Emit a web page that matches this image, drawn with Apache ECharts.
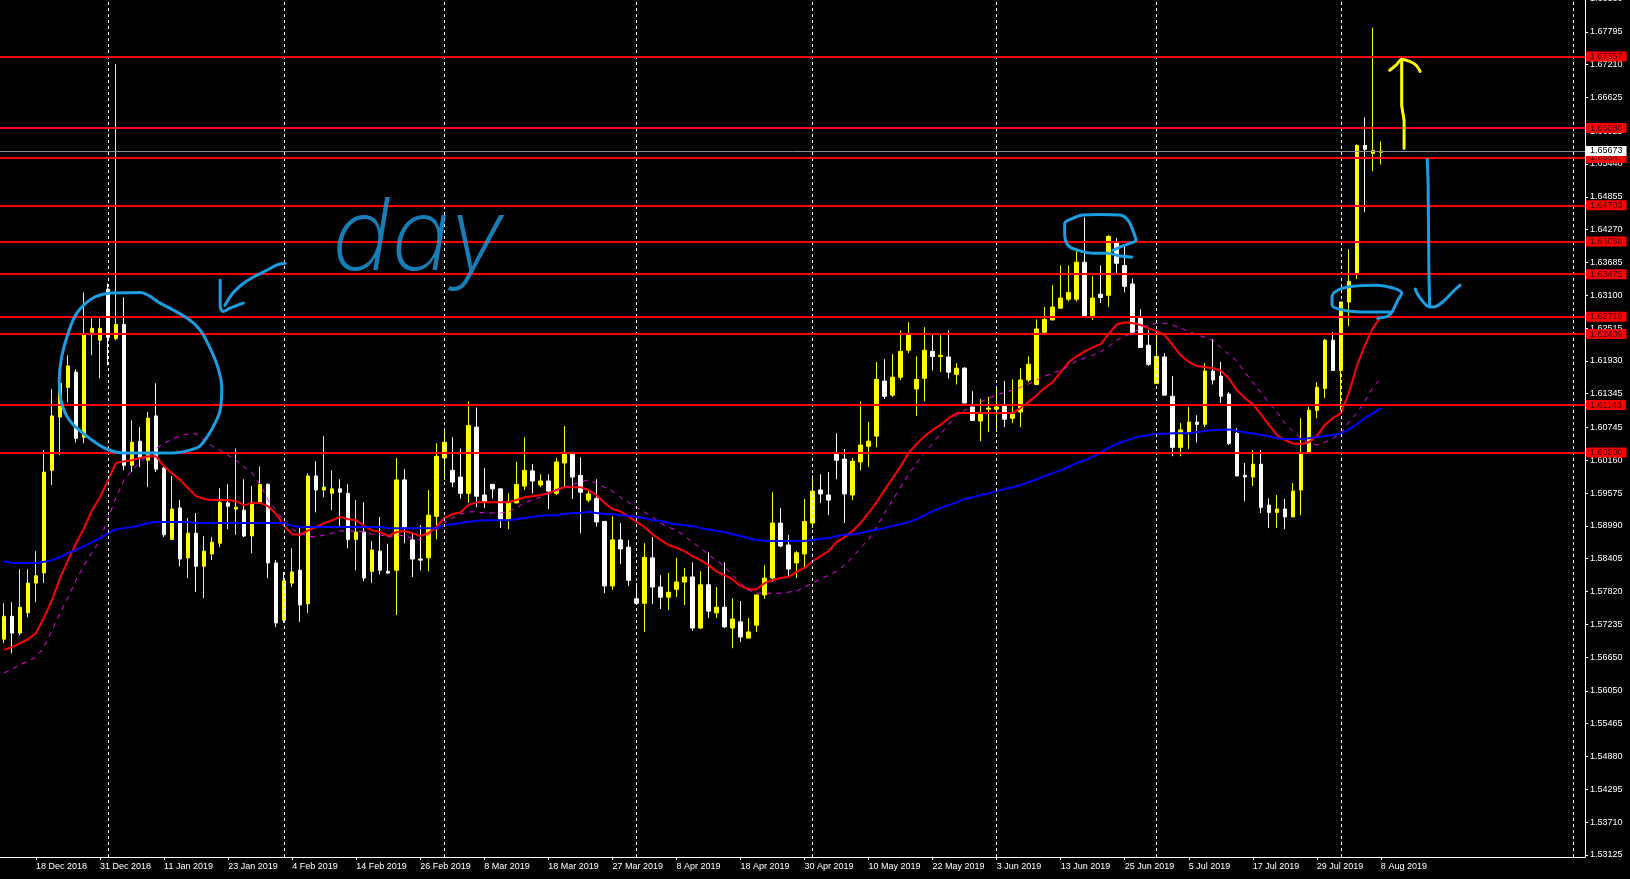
<!DOCTYPE html>
<html><head><meta charset="utf-8">
<script src="https://cdn.jsdelivr.net/npm/echarts@6/dist/echarts.min.js"></script>
<style>html,body{margin:0;padding:0;background:#000;}#c{width:1630px;height:879px;}</style>
</head><body><div id="c"></div>
<script>
// ---------- DATA ----------
const dates = [
"12 Dec 2018","13 Dec 2018","14 Dec 2018","17 Dec 2018","18 Dec 2018","19 Dec 2018","20 Dec 2018","21 Dec 2018","24 Dec 2018","26 Dec 2018","27 Dec 2018","28 Dec 2018","31 Dec 2018",
"2 Jan 2019","3 Jan 2019","4 Jan 2019","7 Jan 2019","8 Jan 2019","9 Jan 2019","10 Jan 2019","11 Jan 2019","14 Jan 2019","15 Jan 2019","16 Jan 2019","17 Jan 2019","18 Jan 2019","21 Jan 2019","22 Jan 2019","23 Jan 2019","24 Jan 2019","25 Jan 2019","28 Jan 2019","29 Jan 2019","30 Jan 2019","31 Jan 2019",
"1 Feb 2019","4 Feb 2019","5 Feb 2019","6 Feb 2019","7 Feb 2019","8 Feb 2019","11 Feb 2019","12 Feb 2019","13 Feb 2019","14 Feb 2019","15 Feb 2019","18 Feb 2019","19 Feb 2019","20 Feb 2019","21 Feb 2019","22 Feb 2019","25 Feb 2019","26 Feb 2019","27 Feb 2019","28 Feb 2019",
"1 Mar 2019","4 Mar 2019","5 Mar 2019","6 Mar 2019","7 Mar 2019","8 Mar 2019","10 Mar 2019","11 Mar 2019","12 Mar 2019","13 Mar 2019","14 Mar 2019","15 Mar 2019","17 Mar 2019","18 Mar 2019","19 Mar 2019","20 Mar 2019","21 Mar 2019","22 Mar 2019","24 Mar 2019","25 Mar 2019","26 Mar 2019","27 Mar 2019","28 Mar 2019","29 Mar 2019",
"1 Apr 2019","2 Apr 2019","3 Apr 2019","4 Apr 2019","5 Apr 2019","8 Apr 2019","9 Apr 2019","10 Apr 2019","11 Apr 2019","12 Apr 2019","15 Apr 2019","16 Apr 2019","17 Apr 2019","18 Apr 2019","19 Apr 2019","22 Apr 2019","23 Apr 2019","24 Apr 2019","25 Apr 2019","26 Apr 2019","29 Apr 2019","30 Apr 2019",
"1 May 2019","2 May 2019","3 May 2019","6 May 2019","7 May 2019","8 May 2019","9 May 2019","10 May 2019","13 May 2019","14 May 2019","15 May 2019","16 May 2019","17 May 2019","20 May 2019","21 May 2019","22 May 2019","23 May 2019","24 May 2019","27 May 2019","28 May 2019","29 May 2019","30 May 2019","31 May 2019",
"3 Jun 2019","4 Jun 2019","5 Jun 2019","6 Jun 2019","7 Jun 2019","10 Jun 2019","11 Jun 2019","12 Jun 2019","13 Jun 2019","14 Jun 2019","17 Jun 2019","18 Jun 2019","19 Jun 2019","20 Jun 2019","21 Jun 2019","24 Jun 2019","25 Jun 2019","26 Jun 2019","27 Jun 2019","28 Jun 2019",
"1 Jul 2019","2 Jul 2019","3 Jul 2019","4 Jul 2019","5 Jul 2019","8 Jul 2019","9 Jul 2019","10 Jul 2019","11 Jul 2019","12 Jul 2019","15 Jul 2019","16 Jul 2019","17 Jul 2019","18 Jul 2019","19 Jul 2019","22 Jul 2019","23 Jul 2019","24 Jul 2019","25 Jul 2019","26 Jul 2019","29 Jul 2019","30 Jul 2019","31 Jul 2019",
"1 Aug 2019","2 Aug 2019","5 Aug 2019","6 Aug 2019","7 Aug 2019","8 Aug 2019"];

const futureSlots = ["9 Aug 2019","12 Aug 2019","13 Aug 2019","14 Aug 2019","15 Aug 2019","16 Aug 2019","19 Aug 2019","20 Aug 2019","21 Aug 2019","22 Aug 2019","23 Aug 2019","26 Aug 2019","27 Aug 2019","28 Aug 2019","29 Aug 2019","30 Aug 2019","2 Sep 2019","3 Sep 2019","4 Sep 2019","5 Sep 2019","6 Sep 2019","9 Sep 2019","10 Sep 2019","11 Sep 2019","12 Sep 2019"];

const opens = [1.5697,1.5738,1.5708,1.5744,1.5797,1.5815,1.5998,1.6093,1.6146,1.6173,
1.6057,1.6244,1.6230,1.6321,1.6233,1.6258,1.6007,1.6050,1.6016,1.6095,
1.6002,1.5875,1.5931,1.5842,1.5886,1.5827,1.5849,1.5868,1.5940,1.5929,
1.5927,1.5881,1.5941,1.5973,1.5833,1.5731,1.5797,1.5820,1.5760,1.5988,
1.5963,1.5957,1.5965,1.5957,1.5875,1.5888,1.5818,1.5854,1.5818,1.5820,
1.5981,1.5874,1.5840,1.5842,1.5916,1.6020,1.5998,1.5986,1.5957,1.6075,
1.5954,1.5973,1.5965,1.5911,1.5940,1.5970,1.5997,1.5972,1.5979,1.5957,
1.6011,1.6030,1.5989,1.5945,1.5948,1.5907,1.5792,1.5874,1.5861,1.5769,
1.5761,1.5842,1.5790,1.5772,1.5786,1.5799,1.5808,1.5717,1.5794,1.5744,
1.5754,1.5717,1.5728,1.5699,1.5722,1.5776,1.5806,1.5904,1.5865,1.5833,
1.5849,1.5904,1.5963,1.5954,1.6027,1.6018,1.5954,1.6013,1.6041,1.6059,
1.6157,1.6132,1.6164,1.6212,1.6143,1.6162,1.6210,1.6201,1.6200,1.6169,
1.6180,1.6111,1.6086,1.6107,1.6107,1.6112,1.6091,1.6102,1.6159,1.6151,
1.6244,1.6266,1.6287,1.6303,1.6303,1.6369,1.6274,1.6312,1.6310,1.6403,
1.6363,1.6330,1.6271,1.6221,1.6153,1.6200,1.6130,1.6039,1.6066,1.6084,
1.6080,1.6175,1.6166,1.6134,1.6064,1.5989,1.5986,1.6009,1.5936,1.5923,
1.5929,1.5915,1.5963,1.6029,1.6105,1.6144,1.6230,1.6176,1.6298,1.6349,
1.6577,1.6563,1.6565];

const closes = [1.5738,1.5708,1.5754,1.5797,1.5810,1.5995,1.6095,1.6153,1.6184,1.6055,
1.6241,1.6251,1.6251,1.6235,1.6258,1.6007,1.6048,1.6020,1.6091,1.6000,
1.5883,1.5929,1.5840,1.5886,1.5827,1.5854,1.5870,1.5941,1.5934,1.5932,
1.5881,1.5941,1.5973,1.5833,1.5726,1.5801,1.5817,1.5758,1.5988,1.5963,
1.5968,1.5965,1.5959,1.5875,1.5888,1.5806,1.5856,1.5820,1.5815,1.5981,
1.5897,1.5840,1.5838,1.5918,1.6023,1.6048,1.5977,1.5957,1.6078,1.5952,
1.5941,1.5965,1.5911,1.5940,1.5973,1.5998,1.5979,1.5979,1.5961,1.6013,
1.6030,1.5986,1.5959,1.5956,1.5906,1.5792,1.5874,1.5858,1.5802,1.5761,
1.5843,1.5790,1.5772,1.5781,1.5799,1.5808,1.5717,1.5794,1.5747,1.5754,
1.5719,1.5733,1.5701,1.5710,1.5776,1.5806,1.5904,1.5863,1.5822,1.5851,
1.5907,1.5961,1.5956,1.5945,1.6016,1.5956,1.6014,1.6043,1.6050,1.6160,
1.6130,1.6164,1.6210,1.6241,1.6160,1.6212,1.6201,1.6203,1.6173,1.6180,
1.6118,1.6087,1.6098,1.6109,1.6111,1.6089,1.6098,1.6159,1.6187,1.6250,
1.6267,1.6289,1.6305,1.6315,1.6369,1.6274,1.6305,1.6306,1.6415,1.6367,
1.6326,1.6244,1.6217,1.6187,1.6201,1.6132,1.6039,1.6070,1.6084,1.6080,
1.6175,1.6159,1.6130,1.6046,1.5988,1.5986,1.6009,1.5932,1.5923,1.5929,
1.5915,1.5961,1.6029,1.6105,1.6146,1.6230,1.6176,1.6298,1.6335,1.6577,
1.6570,1.6568,1.6567];

const lows = [1.5690,1.5672,1.5704,1.5736,1.5763,1.5797,1.5972,1.6025,1.6119,1.6048,
1.6046,1.6203,1.6162,1.6185,1.6230,1.5998,1.5995,1.6004,1.5968,1.5995,
1.5879,1.5874,1.5827,1.5806,1.5781,1.5770,1.5838,1.5861,1.5893,1.5883,
1.5879,1.5850,1.5940,1.5806,1.5719,1.5726,1.5790,1.5728,1.5744,1.5923,
1.5950,1.5927,1.5897,1.5859,1.5820,1.5801,1.5797,1.5813,1.5813,1.5740,
1.5868,1.5808,1.5820,1.5818,1.5875,1.5981,1.5968,1.5948,1.5940,1.5932,
1.5931,1.5948,1.5895,1.5893,1.5940,1.5963,1.5957,1.5968,1.5929,1.5954,
1.5968,1.5947,1.5886,1.5941,1.5898,1.5779,1.5785,1.5831,1.5792,1.5761,
1.5710,1.5760,1.5751,1.5749,1.5772,1.5758,1.5712,1.5715,1.5735,1.5735,
1.5717,1.5681,1.5692,1.5699,1.5710,1.5769,1.5799,1.5861,1.5808,1.5806,
1.5826,1.5895,1.5940,1.5918,1.5982,1.5904,1.5945,1.5998,1.6004,1.6039,
1.6125,1.6129,1.6159,1.6207,1.6095,1.6121,1.6176,1.6173,1.6162,1.6151,
1.6118,1.6087,1.6050,1.6066,1.6066,1.6075,1.6082,1.6075,1.6155,1.6151,
1.6244,1.6266,1.6287,1.6299,1.6299,1.6274,1.6266,1.6296,1.6289,1.6346,
1.6315,1.6244,1.6217,1.6184,1.6153,1.6132,1.6023,1.6023,1.6036,1.6048,
1.6075,1.6151,1.6118,1.6043,1.5988,1.5943,1.5970,1.5922,1.5895,1.5895,
1.5893,1.5915,1.5918,1.6029,1.6091,1.6127,1.6176,1.6105,1.6255,1.6339,
1.6458,1.6531,1.6543];

const highs = [1.5761,1.5763,1.5822,1.5822,1.5854,1.6034,1.6143,1.6159,1.6203,1.6178,
1.6315,1.6269,1.6269,1.6331,1.6722,1.6306,1.6087,1.6075,1.6102,1.6153,
1.6004,1.5988,1.5945,1.5913,1.5922,1.5881,1.5879,1.5966,1.5973,1.6037,
1.5982,1.5970,1.6005,1.5975,1.5838,1.5817,1.5859,1.5897,1.5993,1.6014,
1.6059,1.5998,1.5982,1.5973,1.5945,1.5941,1.5872,1.5915,1.5867,1.6020,
1.6000,1.5888,1.5900,1.5963,1.6046,1.6071,1.6057,1.6037,1.6121,1.6110,
1.6002,1.5973,1.5965,1.5957,1.6013,1.6057,1.6009,1.5991,1.5991,1.6020,
1.6077,1.6030,1.6021,1.5961,1.5982,1.5907,1.5916,1.5904,1.5874,1.5797,
1.5868,1.5879,1.5811,1.5815,1.5842,1.5824,1.5834,1.5818,1.5852,1.5790,
1.5834,1.5770,1.5765,1.5735,1.5776,1.5829,1.5959,1.5931,1.5883,1.5854,
1.5947,1.5989,1.5991,1.5995,1.6064,1.6036,1.6020,1.6121,1.6084,1.6191,
1.6196,1.6205,1.6248,1.6262,1.6201,1.6253,1.6239,1.6239,1.6248,1.6189,
1.6182,1.6139,1.6125,1.6129,1.6146,1.6157,1.6160,1.6180,1.6201,1.6267,
1.6289,1.6328,1.6363,1.6363,1.6394,1.6449,1.6344,1.6363,1.6417,1.6412,
1.6401,1.6340,1.6285,1.6248,1.6246,1.6207,1.6166,1.6082,1.6111,1.6096,
1.6189,1.6232,1.6191,1.6137,1.6073,1.6011,1.6034,1.6034,1.5948,1.5954,
1.5947,1.5975,1.6091,1.6111,1.6155,1.6232,1.6244,1.6298,1.6392,1.6579,
1.6627,1.6787,1.6584];

const maRed = [1.5678,1.5683,1.5690,1.5697,1.5708,1.5736,1.5767,1.5806,1.5838,1.5868,
1.5895,1.5927,1.5950,1.5981,1.6011,1.6014,1.6016,1.6020,1.6023,1.6023,
1.6005,1.5993,1.5981,1.5966,1.5952,1.5947,1.5945,1.5945,1.5945,1.5943,
1.5936,1.5940,1.5940,1.5934,1.5920,1.5899,1.5884,1.5883,1.5891,1.5897,
1.5904,1.5909,1.5915,1.5911,1.5909,1.5899,1.5891,1.5888,1.5881,1.5888,
1.5890,1.5886,1.5881,1.5886,1.5897,1.5913,1.5920,1.5923,1.5936,1.5941,
1.5941,1.5941,1.5941,1.5941,1.5945,1.5950,1.5952,1.5954,1.5957,1.5963,
1.5968,1.5968,1.5968,1.5963,1.5954,1.5940,1.5929,1.5925,1.5916,1.5906,
1.5897,1.5884,1.5874,1.5865,1.5860,1.5854,1.5845,1.5838,1.5829,1.5818,
1.5811,1.5804,1.5792,1.5786,1.5786,1.5797,1.5802,1.5806,1.5808,1.5817,
1.5824,1.5836,1.5845,1.5854,1.5870,1.5879,1.5890,1.5904,1.5922,1.5941,
1.5963,1.5984,1.6005,1.6029,1.6045,1.6059,1.6070,1.6079,1.6091,1.6100,
1.6100,1.6100,1.6100,1.6100,1.6100,1.6100,1.6100,1.6109,1.6120,1.6132,
1.6145,1.6155,1.6173,1.6191,1.6201,1.6210,1.6217,1.6223,1.6241,1.6258,
1.6262,1.6260,1.6257,1.6251,1.6246,1.6239,1.6221,1.6203,1.6191,1.6184,
1.6182,1.6180,1.6176,1.6162,1.6141,1.6127,1.6116,1.6098,1.6079,1.6061,
1.6052,1.6046,1.6045,1.6048,1.6059,1.6079,1.6091,1.6100,1.6136,1.6184,
1.6221,1.6251,1.6273];

const maMagenta = [1.5637,1.5644,1.5651,1.5658,1.5665,1.5683,1.5713,1.5744,1.5772,1.5802,
1.5829,1.5852,1.5874,1.5913,1.5950,1.5981,1.5998,1.6013,1.6025,1.6037,
1.6046,1.6054,1.6059,1.6063,1.6063,1.6052,1.6041,1.6034,1.6025,1.6016,
1.6004,1.5993,1.5972,1.5945,1.5927,1.5906,1.5893,1.5886,1.5881,1.5879,
1.5883,1.5886,1.5890,1.5890,1.5890,1.5888,1.5884,1.5883,1.5879,1.5883,
1.5881,1.5877,1.5874,1.5883,1.5891,1.5904,1.5913,1.5920,1.5924,1.5924,
1.5922,1.5922,1.5922,1.5924,1.5931,1.5940,1.5945,1.5950,1.5957,1.5963,
1.5968,1.5973,1.5977,1.5981,1.5975,1.5968,1.5961,1.5950,1.5941,1.5932,
1.5924,1.5915,1.5904,1.5897,1.5891,1.5881,1.5870,1.5860,1.5847,1.5838,
1.5826,1.5811,1.5797,1.5785,1.5779,1.5779,1.5779,1.5779,1.5781,1.5783,
1.5790,1.5797,1.5804,1.5811,1.5818,1.5829,1.5843,1.5860,1.5874,1.5897,
1.5922,1.5945,1.5968,1.5991,1.6011,1.6029,1.6046,1.6063,1.6080,1.6096,
1.6105,1.6112,1.6120,1.6127,1.6132,1.6137,1.6141,1.6146,1.6152,1.6159,
1.6166,1.6171,1.6176,1.6184,1.6193,1.6198,1.6203,1.6209,1.6219,1.6230,
1.6237,1.6243,1.6251,1.6257,1.6260,1.6260,1.6257,1.6251,1.6246,1.6240,
1.6235,1.6230,1.6217,1.6205,1.6193,1.6173,1.6155,1.6137,1.6118,1.6102,
1.6082,1.6068,1.6055,1.6048,1.6043,1.6048,1.6055,1.6064,1.6084,1.6100,
1.6121,1.6146,1.6162];

const maBlue = [1.5836,1.5833,1.5833,1.5833,1.5833,1.5835,1.5838,1.5843,1.5851,1.5856,
1.5863,1.5870,1.5877,1.5886,1.5893,1.5895,1.5897,1.5900,1.5904,1.5906,
1.5906,1.5906,1.5906,1.5906,1.5904,1.5904,1.5904,1.5904,1.5904,1.5904,
1.5904,1.5904,1.5904,1.5904,1.5904,1.5904,1.5899,1.5897,1.5897,1.5897,
1.5897,1.5897,1.5897,1.5897,1.5897,1.5897,1.5897,1.5897,1.5895,1.5895,
1.5895,1.5895,1.5895,1.5895,1.5895,1.5900,1.5902,1.5904,1.5906,1.5908,
1.5909,1.5909,1.5909,1.5909,1.5911,1.5913,1.5915,1.5917,1.5918,1.5918,
1.5920,1.5922,1.5922,1.5924,1.5922,1.5920,1.5920,1.5918,1.5917,1.5915,
1.5913,1.5909,1.5908,1.5904,1.5902,1.5900,1.5899,1.5895,1.5893,1.5890,
1.5888,1.5884,1.5881,1.5877,1.5874,1.5872,1.5872,1.5872,1.5872,1.5872,
1.5872,1.5874,1.5876,1.5877,1.5881,1.5883,1.5884,1.5886,1.5890,1.5892,
1.5895,1.5899,1.5902,1.5906,1.5911,1.5918,1.5925,1.5931,1.5936,1.5941,
1.5947,1.5950,1.5954,1.5957,1.5961,1.5965,1.5968,1.5972,1.5977,1.5982,
1.5988,1.5993,1.5998,1.6004,1.6011,1.6016,1.6022,1.6030,1.6038,1.6045,
1.6050,1.6055,1.6059,1.6061,1.6063,1.6063,1.6064,1.6064,1.6064,1.6066,
1.6068,1.6070,1.6070,1.6071,1.6068,1.6066,1.6064,1.6061,1.6059,1.6055,
1.6054,1.6054,1.6054,1.6055,1.6057,1.6059,1.6061,1.6063,1.6071,1.6080,
1.6091,1.6100,1.6109];

const levelPrices = [1.67357,1.66080,1.65547,1.64703,1.64058,1.63475,1.62719,1.62409,1.61143,1.60300];
const currentPrice = 1.65673;
const yTicks = [1.53125,1.53710,1.54295,1.54880,1.55465,1.56050,1.56650,1.57235,1.57820,1.58405,1.58990,1.59575,1.60160,1.60745,1.61345,1.61930,1.62515,1.63100,1.63685,1.64270,1.64855,1.65440,1.66025,1.66625,1.67210,1.67795,1.68380];
const monthStarts = ["2 Jan 2019","1 Feb 2019","1 Mar 2019","1 Apr 2019","1 May 2019","3 Jun 2019","1 Jul 2019","1 Aug 2019","11 Sep 2019"];

// hand-drawn annotations, in [bar index, price]
const annCircle = [[13.2,1.6314],[17.0,1.6315],[19.5,1.6296],[22.9,1.6269],[24.5,1.6248],[25.7,1.6217],[26.7,1.6182],[27.2,1.6146],[27.0,1.6105],[26.1,1.6075],[24.9,1.6048],[24.1,1.6038],[21.1,1.6029],[17.4,1.6029],[14.9,1.6029],[12.4,1.6039],[9.9,1.6064],[8.2,1.6087],[7.2,1.6118],[6.9,1.6159],[7.2,1.6200],[8.0,1.6242],[9.1,1.6278],[11.1,1.6305],[13.2,1.6314]];
const annArrowShaft = [[35.1,1.6367],[34.1,1.6364],[32.9,1.6355],[31.1,1.6342],[29.9,1.6331],[28.6,1.6314],[27.6,1.6292]];
const annArrowHead = [[27.0,1.6337],[27.0,1.6290],[27.4,1.6281],[28.2,1.6287],[29.9,1.6296]];
const annJuneLoop = [[138.5,1.6390],[139.4,1.6396],[140.7,1.6403],[141.4,1.6408],[141.0,1.6426],[140.4,1.6444],[139.4,1.6453],[136.9,1.6454],[134.8,1.6453],[133.5,1.6447],[132.5,1.6438],[132.5,1.6421],[132.9,1.6399],[134.4,1.6389],[136.0,1.6385],[137.8,1.6385],[139.4,1.6380],[140.9,1.6378]];
const annJulyLoop = [[171.6,1.6269],[172.9,1.6273],[173.5,1.6283],[174.1,1.6301],[174.6,1.6314],[173.5,1.6323],[171.5,1.6328],[168.5,1.6326],[166.6,1.6319],[165.9,1.6307],[165.9,1.6292],[167.5,1.6283],[170.6,1.6280],[173.1,1.6280]];
const annUpShaft = [[174.9,1.6572],[174.9,1.6622],[174.6,1.6648],[174.6,1.6730]];
const annUpHead = [[173.1,1.6711],[173.9,1.6720],[174.6,1.6730],[175.6,1.6727],[176.4,1.6720],[176.9,1.6709]];
const annDownShaft = [[177.8,1.6552],[177.9,1.6510],[178.0,1.6349],[178.1,1.6289]];
const annDownHead = [[176.3,1.6321],[176.8,1.6307],[177.9,1.6290],[178.6,1.6289],[179.8,1.6299],[180.9,1.6315],[181.9,1.6328]];
const noteText = "day";
const notePos = [51.7, 1.6408];

// ---------- CHART ----------
const categories = dates.concat(futureSlots);
const nSlots = categories.length;
const candleData = dates.map((d, i) => [opens[i], closes[i], lows[i], highs[i]]);
const showLabel = (i) => i % 8 === 4 && i < dates.length;
const annBlue = '#1b9de2';
const axisFont = 'Liberation Sans';

function stroke(data, color, smooth) {
  return {type: 'line', xAxisIndex: 1, yAxisIndex: 0, data: data, symbol: 'none', smooth: smooth || 0,
    silent: true, z: 6, clip: false, lineStyle: {color: color, width: 3, cap: 'round', join: 'round'}};
}

const chart = echarts.init(document.getElementById('c'));
chart.setOption({
  backgroundColor: '#000000',
  animation: false,
  grid: {left: 0, right: 45, top: -1, bottom: 22, containLabel: false, outerBoundsMode: 'none'},
  xAxis: [
    {type: 'category', data: categories, boundaryGap: true,
     axisLine: {show: true, onZero: false, lineStyle: {color: '#ffffff', width: 1}},
     axisTick: {show: true, alignWithLabel: true, interval: showLabel, length: 3, lineStyle: {color: '#ffffff'}},
     axisLabel: {interval: showLabel, align: 'left', color: '#ffffff', fontSize: 9, fontFamily: axisFont, margin: 5},
     splitLine: {show: false}},
    {type: 'value', min: -0.5, max: nSlots - 0.5, show: false, axisLine: {onZero: false}}
  ],
  yAxis: [{type: 'value', position: 'right', min: 1.53089, max: 1.6838,
    axisLine: {show: true, onZero: false, lineStyle: {color: '#ffffff', width: 1}},
    axisTick: {show: true, length: 3, customValues: yTicks, lineStyle: {color: '#ffffff'}},
    axisLabel: {customValues: yTicks, formatter: v => v.toFixed(5), color: '#ffffff', fontSize: 9, fontFamily: axisFont, margin: 5},
    splitLine: {show: false}}],
  series: [
    {type: 'line', name: 'separators', data: [], z: 1, silent: true,
     markLine: {silent: true, symbol: ['none', 'none'], label: {show: false},
       lineStyle: {color: '#ffffff', type: [3, 3], width: 1},
       data: monthStarts.map(d => ({xAxis: d}))}},
    {type: 'candlestick', name: 'EURAUD', data: candleData, barWidth: 4, z: 3, silent: true,
     itemStyle: {color: '#ffff00', color0: '#ffffff', borderColor: '#ffff00', borderColor0: '#ffffff', borderWidth: 1}},
    {type: 'line', name: 'MA fast', data: maRed, symbol: 'none', z: 4, silent: true,
     lineStyle: {color: '#ff0000', width: 2}},
    {type: 'line', name: 'MA mid', data: maMagenta, symbol: 'none', z: 4, silent: true,
     lineStyle: {color: '#ff00ff', width: 1, type: [5, 5]}},
    {type: 'line', name: 'MA slow', data: maBlue, symbol: 'none', z: 4, silent: true,
     lineStyle: {color: '#0000ff', width: 2}},
    {type: 'line', name: 'levels', data: [], z: 5, silent: true,
     markLine: {silent: true, symbol: ['none', 'none'], precision: 5,
       lineStyle: {color: '#ff0000', width: 2, type: 'solid'},
       label: {show: true, position: 'end', distance: 1,
         formatter: p => levelPrices[p.dataIndex].toFixed(5),
         color: '#3a0000', backgroundColor: '#ff0000', fontSize: 9, fontFamily: axisFont, padding: [1, 4, 0, 4]},
       data: levelPrices.map(p => ({yAxis: p}))}},
    {type: 'line', name: 'bid', data: [], z: 5, silent: true,
     markLine: {silent: true, symbol: ['none', 'none'], precision: 5,
       lineStyle: {color: '#8c8c8c', width: 1, type: 'solid'},
       label: {show: true, position: 'end', distance: 1, formatter: () => currentPrice.toFixed(5),
         color: '#000000', backgroundColor: '#ffffff', fontSize: 9, fontFamily: axisFont, padding: [1, 4, 0, 4]},
       data: [{yAxis: currentPrice}]}},
    stroke(annCircle, annBlue, 0.35),
    stroke(annArrowShaft, annBlue, 0.3),
    stroke(annArrowHead, annBlue, 0.3),
    stroke(annJuneLoop, annBlue, 0.35),
    stroke(annJulyLoop, annBlue, 0.35),
    stroke(annUpShaft, '#ffff00', 0),
    stroke(annUpHead, '#ffff00', 0.4),
    stroke(annDownShaft, annBlue, 0),
    stroke(annDownHead, annBlue, 0.3),
    {type: 'scatter', xAxisIndex: 1, yAxisIndex: 0, data: [notePos], symbolSize: 1, z: 6, silent: true,
     itemStyle: {color: 'rgba(0,0,0,0)'},
     label: {show: true, position: 'inside', formatter: noteText, color: annBlue, fontSize: 100,
       fontFamily: 'Inter', fontStyle: 'italic', fontWeight: 200}}
  ]
});
</script></body></html>
